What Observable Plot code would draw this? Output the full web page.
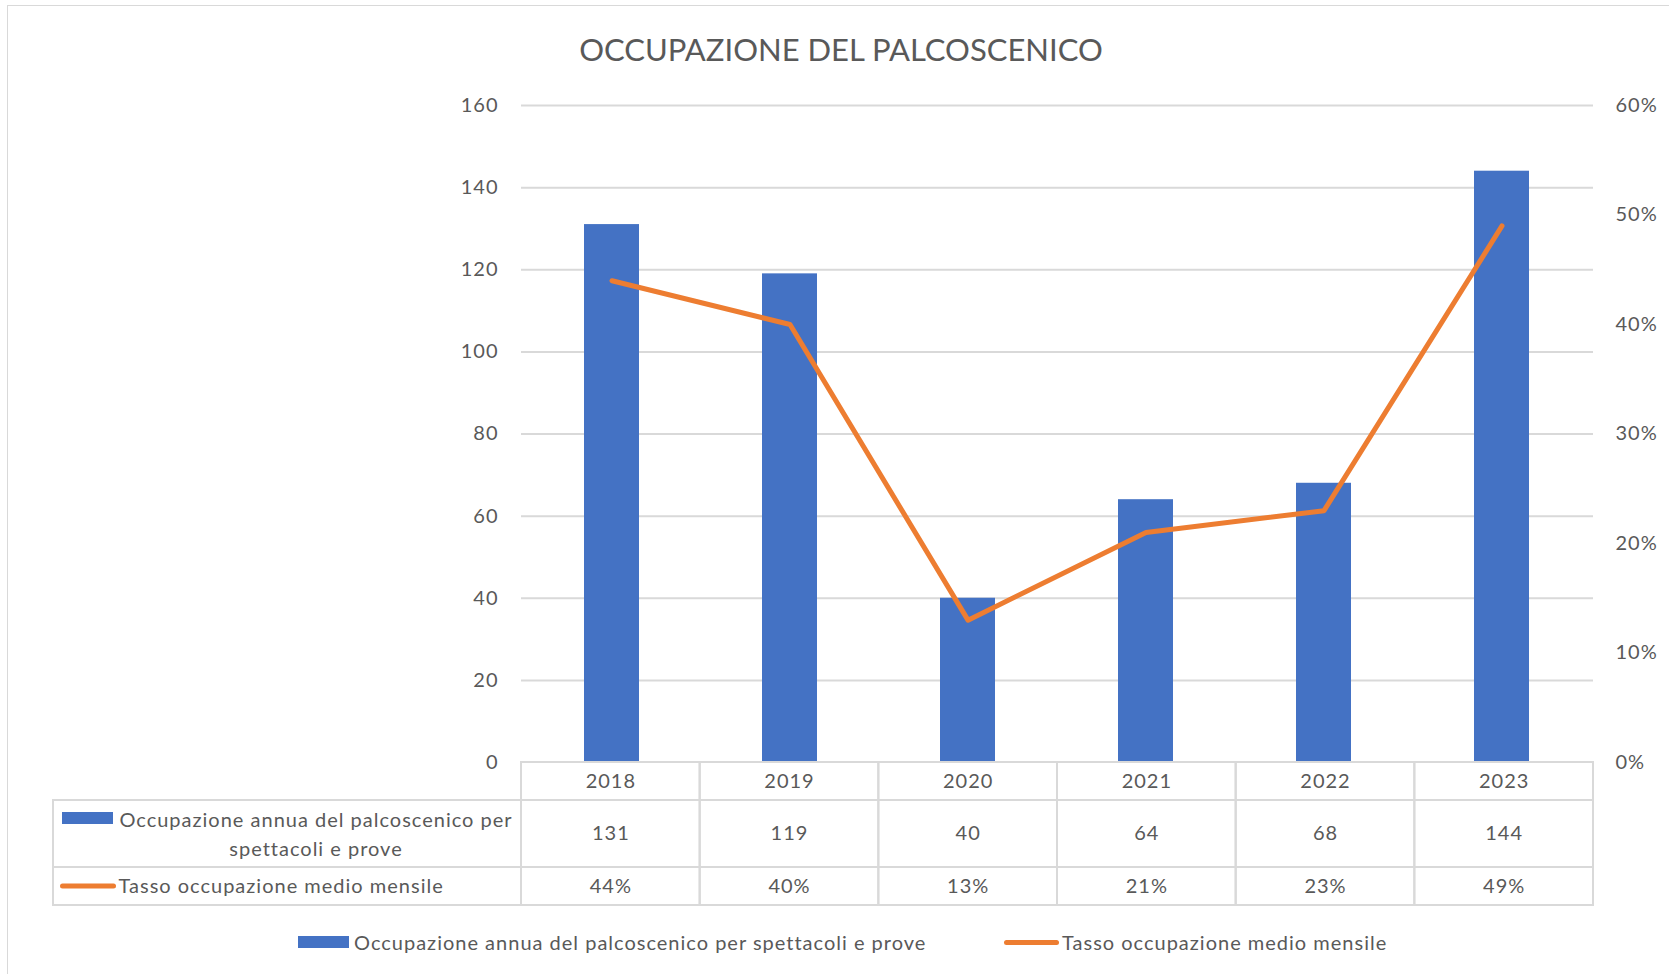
<!DOCTYPE html>
<html>
<head>
<meta charset="utf-8">
<script src="https://cdn.jsdelivr.net/npm/d3@7"></script>
<script src="https://cdn.jsdelivr.net/npm/@observablehq/plot@0.6"></script>
<style>
  html, body { margin: 0; padding: 0; background: #fff; }
  #wrap { position: relative; width: 1669px; height: 974px; overflow: hidden; background: #fff; font-family: Lato, "Noto Sans", sans-serif; color: #595959; }
  #frame { position: absolute; left: 7px; top: 5px; width: 2000px; height: 2000px; border-top: 1.5px solid #d9d9d9; border-left: 1.5px solid #d9d9d9; }
  #title { position: absolute; left: 0; width: 1682px; top: 30px; text-align: center; font-size: 31px; line-height: 38px; color: #595959; }
  .layer { position: absolute; left: 0; top: 0; }
  .legend-item { position: absolute; top: 930px; height: 24px; display: flex; align-items: center; font-size: 20px; letter-spacing: 1px; color: #595959; white-space: nowrap; }
  .sw-bar { width: 51px; height: 12px; background: #4472C4; margin-right: 5px; }
  .sw-line { width: 55px; height: 5px; border-radius: 3px; background: #ED7D31; margin-right: 3px; }
</style>
</head>
<body>
<div id="wrap">
  <div id="frame"></div>
  <div id="title"></div>
  <div id="chart" class="layer"></div>
  <div id="table" class="layer"></div>
  <div id="legend"></div>
</div>
<script>
// ---------- data ----------
const titleText = "OCCUPAZIONE DEL PALCOSCENICO";
const years = ["2018", "2019", "2020", "2021", "2022", "2023"];
const counts = [131, 119, 40, 64, 68, 144];
const rates = [0.44, 0.40, 0.13, 0.21, 0.23, 0.49];
const leftTicks = [0, 20, 40, 60, 80, 100, 120, 140, 160];
const rightTicks = [0, 0.1, 0.2, 0.3, 0.4, 0.5, 0.6];
const barSeriesName = "Occupazione annua del palcoscenico per spettacoli e prove";
const barSeriesLines = ["Occupazione annua del palcoscenico per", "spettacoli e prove"];
const lineSeriesName = "Tasso occupazione medio mensile";

// ---------- layout ----------
const W = 1669, H = 974;
const plotLeft = 521, plotRight = 1593, plotTop = 105, plotBottom = 762;
const tableLeft = 53, tableBottom = 905;
const rowEdges = [0, 38, 105, 143];      // pixel offsets below plotBottom
const blue = "#4472C4", orange = "#ED7D31", grid = "#d9d9d9", ink = "#595959";
const leftMax = 160, rightMax = 0.6;
const toLeft = p => p * leftMax / rightMax;
const font = "Lato, 'Noto Sans', sans-serif";

const data = years.map((y, i) => ({year: y, count: counts[i], rate: rates[i]}));

document.getElementById("title").textContent = titleText;

// ---------- chart ----------
const chart = Plot.plot({
  width: W, height: H,
  marginTop: plotTop, marginBottom: H - plotBottom, marginLeft: plotLeft, marginRight: W - plotRight,
  style: {background: "transparent", fontFamily: font, fontSize: "20px", color: ink, letterSpacing: "1px"},
  x: {domain: years, paddingInner: 0.69, paddingOuter: 0.345, axis: null},
  y: {domain: [0, leftMax], axis: null},
  marks: [
    Plot.ruleY(leftTicks.filter(d => d > 0), {stroke: grid, strokeWidth: 2}),
    Plot.axisY(leftTicks, {anchor: "left", tickSize: 0, tickPadding: 23, fontSize: 20, fill: ink, label: null}),
    Plot.axisY(rightTicks.map(toLeft), {anchor: "right", tickSize: 0, tickPadding: 22, fontSize: 20, fill: ink, label: null,
      tickFormat: v => Math.round(v / leftMax * rightMax * 100) + "%"}),
    Plot.barY(data, {x: "year", y: "count", fill: blue}),
    Plot.lineY(data, {x: "year", y: d => toLeft(d.rate), stroke: orange, strokeWidth: 5,
      strokeLinecap: "round", strokeLinejoin: "round"})
  ]
});
document.getElementById("chart").appendChild(chart);

// ---------- data table ----------
const colW = (plotRight - plotLeft) / years.length;
const ux = px => (px - plotLeft) / colW;        // pixel -> column units
const labelSpan = -ux(tableLeft);
const rowMid = r => (rowEdges[r] + rowEdges[r + 1]) / 2;

const yearCells = [];
years.forEach((y, i) => { for (let r = 0; r < 3; r++) yearCells.push({i, r}); });
const labelCells = [1, 2].map(r => ({r}));

const table = Plot.plot({
  width: W, height: H,
  marginTop: plotBottom, marginBottom: H - tableBottom, marginLeft: tableLeft, marginRight: W - plotRight,
  style: {background: "transparent", fontFamily: font, fontSize: "20px", color: ink, letterSpacing: "1px"},
  x: {type: "linear", domain: [-labelSpan, years.length], axis: null},
  y: {type: "linear", domain: [0, rowEdges[3]], reverse: true, axis: null},
  marks: [
    Plot.rect(yearCells, {x1: d => d.i, x2: d => d.i + 1, y1: d => rowEdges[d.r], y2: d => rowEdges[d.r + 1],
      fill: "none", stroke: grid, strokeWidth: 2}),
    Plot.rect(labelCells, {x1: -labelSpan, x2: 0, y1: d => rowEdges[d.r], y2: d => rowEdges[d.r + 1],
      fill: "none", stroke: grid, strokeWidth: 2}),
    Plot.text(years, {x: (d, i) => i + 0.5, y: () => rowMid(0), text: d => d, fontSize: 20, fill: ink}),
    Plot.text(counts, {x: (d, i) => i + 0.5, y: () => rowMid(1), text: d => String(d), fontSize: 20, fill: ink}),
    Plot.text(rates, {x: (d, i) => i + 0.5, y: () => rowMid(2), text: d => Math.round(d * 100) + "%", fontSize: 20, fill: ink}),
    // row labels
    Plot.text([barSeriesLines.join("\n")], {x: ux(315.5), y: () => rowMid(1) - 2, text: d => d, fontSize: 20, fill: ink,
      textAnchor: "middle", lineHeight: 1.475}),
    Plot.text([lineSeriesName], {x: ux(118), y: () => rowMid(2), text: d => d, fontSize: 20, fill: ink, textAnchor: "start"}),
    // row-label swatches
    Plot.rect([barSeriesName], {x1: ux(62), x2: ux(113), y1: 812 - plotBottom, y2: 824 - plotBottom, fill: blue}),
    Plot.line([[ux(62), 885.5 - plotBottom], [ux(113), 885.5 - plotBottom]], {stroke: orange, strokeWidth: 5, strokeLinecap: "round"})
  ]
});
document.getElementById("table").appendChild(table);

// ---------- legend ----------
const legend = document.getElementById("legend");
legend.innerHTML = "";
[[barSeriesName, "sw-bar", 298], [lineSeriesName, "sw-line", 1004]].forEach(([name, cls, left]) => {
  const item = document.createElement("div"); item.className = "legend-item"; item.style.left = left + "px";
  const sw = document.createElement("span"); sw.className = cls; item.appendChild(sw);
  const t = document.createElement("span"); t.textContent = name; item.appendChild(t);
  legend.appendChild(item);
});
</script>
</body>
</html>
